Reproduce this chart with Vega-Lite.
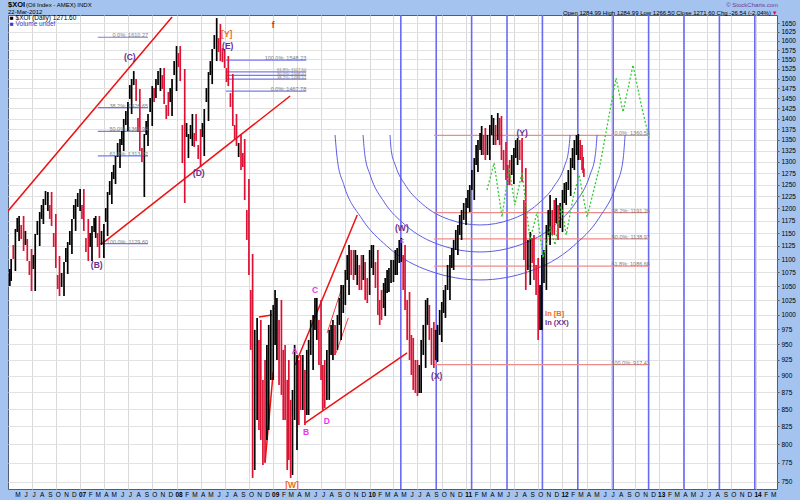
{
  "$schema": "https://vega.github.io/schema/vega-lite/v6.json",
  "width": 769,
  "height": 474,
  "autosize": {"type": "none"},
  "padding": {"left": 8, "top": 15, "right": 23, "bottom": 11},
  "background": "#a5c3ef",
  "config": {
    "font": "Liberation Sans",
    "view": {"fill": "#ffffff", "stroke": "#4f5d78", "strokeWidth": 1},
    "axis": {"labelFont": "Liberation Sans", "labelColor": "#000000", "domain": false, "title": null}
  },
  "datasets": {
    "bars": [
      {"d":"2006-04-10","hi":1081.4,"lo":1050.3,"dn":false},
      {"d":"2006-04-15","hi":1100.2,"lo":1059.4,"dn":false},
      {"d":"2006-05-01","hi":1158.4,"lo":1077.7,"dn":false},
      {"d":"2006-05-15","hi":1184.5,"lo":1134.7,"dn":false},
      {"d":"2006-06-01","hi":1184.5,"lo":1115.4,"dn":true},
      {"d":"2006-06-15","hi":1138.6,"lo":1096.4,"dn":true},
      {"d":"2006-07-01","hi":1119.3,"lo":1041.3,"dn":true},
      {"d":"2006-07-15","hi":1148.4,"lo":1041.3,"dn":false},
      {"d":"2006-08-01","hi":1192.6,"lo":1125.0,"dn":false},
      {"d":"2006-08-15","hi":1219.6,"lo":1168.3,"dn":false},
      {"d":"2006-09-01","hi":1234.3,"lo":1194.7,"dn":false},
      {"d":"2006-09-15","hi":1234.3,"lo":1164.3,"dn":true},
      {"d":"2006-10-01","hi":1188.6,"lo":1083.3,"dn":true},
      {"d":"2006-10-15","hi":1105.8,"lo":1032.4,"dn":true},
      {"d":"2006-11-01","hi":1094.5,"lo":1032.4,"dn":false},
      {"d":"2006-11-15","hi":1132.7,"lo":1072.2,"dn":false},
      {"d":"2006-12-01","hi":1178.5,"lo":1109.6,"dn":false},
      {"d":"2006-12-15","hi":1219.6,"lo":1154.4,"dn":false},
      {"d":"2007-01-01","hi":1240.7,"lo":1194.7,"dn":false},
      {"d":"2007-01-15","hi":1240.7,"lo":1154.4,"dn":true},
      {"d":"2007-02-01","hi":1178.5,"lo":1096.4,"dn":true},
      {"d":"2007-02-15","hi":1164.3,"lo":1096.4,"dn":false},
      {"d":"2007-03-01","hi":1184.5,"lo":1140.6,"dn":false},
      {"d":"2007-03-15","hi":1184.5,"lo":1102.1,"dn":true},
      {"d":"2007-04-01","hi":1168.3,"lo":1102.1,"dn":false},
      {"d":"2007-04-15","hi":1234.3,"lo":1144.5,"dn":false},
      {"d":"2007-05-01","hi":1277.4,"lo":1209.1,"dn":false},
      {"d":"2007-05-15","hi":1313.0,"lo":1251.3,"dn":false},
      {"d":"2007-06-01","hi":1352.0,"lo":1286.3,"dn":false},
      {"d":"2007-06-15","hi":1399.3,"lo":1324.4,"dn":false},
      {"d":"2007-07-01","hi":1440.7,"lo":1370.7,"dn":false},
      {"d":"2007-07-15","hi":1498.7,"lo":1411.3,"dn":false},
      {"d":"2007-08-01","hi":1498.7,"lo":1443.1,"dn":true},
      {"d":"2007-08-15","hi":1473.2,"lo":1324.4,"dn":true},
      {"d":"2007-09-01","hi":1363.6,"lo":1223.8,"dn":false},
      {"d":"2007-09-15","hi":1411.3,"lo":1335.8,"dn":false},
      {"d":"2007-10-01","hi":1480.7,"lo":1382.5,"dn":false},
      {"d":"2007-10-15","hi":1498.7,"lo":1450.6,"dn":false},
      {"d":"2007-11-01","hi":1527.3,"lo":1468.1,"dn":false},
      {"d":"2007-11-15","hi":1527.3,"lo":1435.7,"dn":true},
      {"d":"2007-12-01","hi":1465.6,"lo":1406.5,"dn":true},
      {"d":"2007-12-15","hi":1498.7,"lo":1406.5,"dn":false},
      {"d":"2008-01-01","hi":1586.1,"lo":1468.1,"dn":false},
      {"d":"2008-01-15","hi":1586.1,"lo":1493.5,"dn":true},
      {"d":"2008-02-01","hi":1524.7,"lo":1211.2,"dn":true},
      {"d":"2008-02-15","hi":1363.6,"lo":1308.5,"dn":false},
      {"d":"2008-03-01","hi":1411.3,"lo":1335.8,"dn":false},
      {"d":"2008-03-15","hi":1411.3,"lo":1347.3,"dn":true},
      {"d":"2008-04-01","hi":1375.4,"lo":1288.5,"dn":true},
      {"d":"2008-04-15","hi":1423.4,"lo":1313.0,"dn":false},
      {"d":"2008-05-01","hi":1516.8,"lo":1394.5,"dn":false},
      {"d":"2008-05-15","hi":1578.0,"lo":1485.8,"dn":false},
      {"d":"2008-06-01","hi":1664.2,"lo":1545.7,"dn":false},
      {"d":"2008-06-15","hi":1647.2,"lo":1545.7,"dn":true},
      {"d":"2008-07-01","hi":1578.0,"lo":1527.3,"dn":true},
      {"d":"2008-07-15","hi":1559.1,"lo":1480.7,"dn":true},
      {"d":"2008-08-01","hi":1511.6,"lo":1382.5,"dn":true},
      {"d":"2008-08-15","hi":1411.3,"lo":1335.8,"dn":true},
      {"d":"2008-09-01","hi":1363.6,"lo":1281.9,"dn":true},
      {"d":"2008-09-15","hi":1352.0,"lo":1217.5,"dn":true},
      {"d":"2008-10-01","hi":1262.1,"lo":1070.3,"dn":true},
      {"d":"2008-10-15","hi":1109.6,"lo":755.2,"dn":true},
      {"d":"2008-11-01","hi":994.2,"lo":834.3,"dn":false},
      {"d":"2008-11-15","hi":990.8,"lo":806.2,"dn":true},
      {"d":"2008-12-01","hi":924.9,"lo":776.2,"dn":true},
      {"d":"2008-12-15","hi":982.3,"lo":820.1,"dn":false},
      {"d":"2009-01-01","hi":1016.6,"lo":893.7,"dn":false},
      {"d":"2009-01-15","hi":1028.9,"lo":924.9,"dn":false},
      {"d":"2009-02-01","hi":1025.4,"lo":871.0,"dn":true},
      {"d":"2009-02-15","hi":949.1,"lo":834.3,"dn":true},
      {"d":"2009-03-01","hi":924.9,"lo":778.9,"dn":true},
      {"d":"2009-03-15","hi":878.5,"lo":759.1,"dn":false},
      {"d":"2009-04-01","hi":932.9,"lo":792.5,"dn":false},
      {"d":"2009-04-15","hi":932.9,"lo":848.8,"dn":true},
      {"d":"2009-05-01","hi":909.2,"lo":827.2,"dn":true},
      {"d":"2009-05-15","hi":957.3,"lo":841.5,"dn":false},
      {"d":"2009-06-01","hi":999.3,"lo":909.2,"dn":false},
      {"d":"2009-06-15","hi":1028.9,"lo":957.3,"dn":false},
      {"d":"2009-07-01","hi":1025.4,"lo":893.7,"dn":true},
      {"d":"2009-07-15","hi":924.9,"lo":851.7,"dn":true},
      {"d":"2009-08-01","hi":973.9,"lo":863.6,"dn":false},
      {"d":"2009-08-15","hi":990.8,"lo":924.9,"dn":false},
      {"d":"2009-09-01","hi":999.3,"lo":941.0,"dn":false},
      {"d":"2009-09-15","hi":1052.1,"lo":957.3,"dn":false},
      {"d":"2009-10-01","hi":1079.6,"lo":1016.6,"dn":false},
      {"d":"2009-10-15","hi":1126.9,"lo":1034.2,"dn":false},
      {"d":"2009-11-01","hi":1117.3,"lo":1061.2,"dn":true},
      {"d":"2009-11-15","hi":1107.7,"lo":1052.1,"dn":false},
      {"d":"2009-12-01","hi":1107.7,"lo":1043.1,"dn":true},
      {"d":"2009-12-15","hi":1094.5,"lo":1025.4,"dn":true},
      {"d":"2010-01-01","hi":1117.3,"lo":1034.2,"dn":false},
      {"d":"2010-01-15","hi":1126.9,"lo":1070.3,"dn":false},
      {"d":"2010-02-01","hi":1117.3,"lo":999.3,"dn":true},
      {"d":"2010-02-15","hi":1043.1,"lo":990.8,"dn":true},
      {"d":"2010-03-01","hi":1064.8,"lo":997.6,"dn":false},
      {"d":"2010-03-15","hi":1083.3,"lo":1039.5,"dn":false},
      {"d":"2010-04-01","hi":1098.3,"lo":1057.5,"dn":false},
      {"d":"2010-04-15","hi":1121.2,"lo":1070.3,"dn":false},
      {"d":"2010-05-01","hi":1140.6,"lo":1094.5,"dn":false},
      {"d":"2010-05-15","hi":1126.9,"lo":1007.9,"dn":true},
      {"d":"2010-06-01","hi":1039.5,"lo":924.9,"dn":true},
      {"d":"2010-06-15","hi":960.6,"lo":878.5,"dn":true},
      {"d":"2010-07-01","hi":924.9,"lo":869.5,"dn":true},
      {"d":"2010-07-15","hi":957.3,"lo":873.9,"dn":false},
      {"d":"2010-08-01","hi":1025.4,"lo":912.3,"dn":false},
      {"d":"2010-08-15","hi":1016.6,"lo":957.3,"dn":true},
      {"d":"2010-09-01","hi":987.3,"lo":912.3,"dn":true},
      {"d":"2010-09-15","hi":982.3,"lo":921.7,"dn":false},
      {"d":"2010-10-01","hi":1021.8,"lo":953.9,"dn":false},
      {"d":"2010-10-15","hi":1052.1,"lo":994.2,"dn":false},
      {"d":"2010-11-01","hi":1107.7,"lo":1025.4,"dn":false},
      {"d":"2010-11-15","hi":1136.7,"lo":1079.6,"dn":false},
      {"d":"2010-12-01","hi":1166.3,"lo":1107.7,"dn":false},
      {"d":"2010-12-15","hi":1196.8,"lo":1136.7,"dn":false},
      {"d":"2011-01-01","hi":1221.7,"lo":1166.3,"dn":false},
      {"d":"2011-01-15","hi":1249.2,"lo":1192.6,"dn":false},
      {"d":"2011-02-01","hi":1308.5,"lo":1217.5,"dn":false},
      {"d":"2011-02-15","hi":1349.6,"lo":1277.4,"dn":false},
      {"d":"2011-03-01","hi":1382.5,"lo":1315.3,"dn":false},
      {"d":"2011-03-15","hi":1377.8,"lo":1304.1,"dn":true},
      {"d":"2011-04-01","hi":1384.9,"lo":1304.1,"dn":false},
      {"d":"2011-04-15","hi":1401.7,"lo":1338.1,"dn":false},
      {"d":"2011-05-01","hi":1413.7,"lo":1349.6,"dn":false},
      {"d":"2011-05-15","hi":1406.5,"lo":1304.1,"dn":true},
      {"d":"2011-06-01","hi":1345.0,"lo":1260.0,"dn":true},
      {"d":"2011-06-15","hi":1304.1,"lo":1249.2,"dn":true},
      {"d":"2011-07-01","hi":1331.2,"lo":1251.3,"dn":false},
      {"d":"2011-07-15","hi":1354.3,"lo":1292.9,"dn":false},
      {"d":"2011-08-01","hi":1354.3,"lo":1255.7,"dn":true},
      {"d":"2011-08-15","hi":1286.3,"lo":1043.1,"dn":true},
      {"d":"2011-09-01","hi":1152.4,"lo":1052.1,"dn":false},
      {"d":"2011-09-15","hi":1146.5,"lo":1061.2,"dn":true},
      {"d":"2011-10-01","hi":1102.1,"lo":957.3,"dn":true},
      {"d":"2011-10-15","hi":1107.7,"lo":973.9,"dn":false},
      {"d":"2011-11-01","hi":1166.3,"lo":1043.1,"dn":false},
      {"d":"2011-11-15","hi":1228.0,"lo":1126.9,"dn":false},
      {"d":"2011-12-01","hi":1217.5,"lo":1146.5,"dn":true},
      {"d":"2011-12-15","hi":1207.1,"lo":1136.7,"dn":true},
      {"d":"2012-01-01","hi":1238.5,"lo":1152.4,"dn":false},
      {"d":"2012-01-15","hi":1255.7,"lo":1207.1,"dn":false},
      {"d":"2012-02-01","hi":1308.5,"lo":1225.9,"dn":false},
      {"d":"2012-02-15","hi":1349.6,"lo":1281.9,"dn":false},
      {"d":"2012-03-01","hi":1363.6,"lo":1304.1,"dn":false},
      {"d":"2012-03-15","hi":1338.1,"lo":1281.9,"dn":true},
      {"d":"2012-03-22","hi":1284.99,"lo":1266.5,"dn":true},
      {"d":"2006-04-23","hi":1126.9,"lo":1100.2,"dn":true},
      {"d":"2006-05-08","hi":1180.5,"lo":1152.4,"dn":false},
      {"d":"2006-05-23","hi":1166.3,"lo":1138.6,"dn":true},
      {"d":"2006-06-08","hi":1154.4,"lo":1126.9,"dn":false},
      {"d":"2006-06-23","hi":1096.4,"lo":1070.3,"dn":true},
      {"d":"2006-07-08","hi":1107.7,"lo":1081.4,"dn":false},
      {"d":"2006-07-23","hi":1174.5,"lo":1146.5,"dn":false},
      {"d":"2006-08-08","hi":1207.1,"lo":1178.5,"dn":false},
      {"d":"2006-08-23","hi":1236.4,"lo":1207.1,"dn":false},
      {"d":"2006-09-08","hi":1207.1,"lo":1178.5,"dn":true},
      {"d":"2006-09-23","hi":1150.4,"lo":1123.1,"dn":true},
      {"d":"2006-10-08","hi":1070.3,"lo":1044.9,"dn":true},
      {"d":"2006-10-23","hi":1074.0,"lo":1048.5,"dn":false},
      {"d":"2006-11-08","hi":1121.2,"lo":1094.5,"dn":false},
      {"d":"2006-11-23","hi":1154.4,"lo":1126.9,"dn":false},
      {"d":"2006-12-08","hi":1207.1,"lo":1178.5,"dn":false},
      {"d":"2006-12-23","hi":1232.2,"lo":1203.0,"dn":false},
      {"d":"2007-01-08","hi":1207.1,"lo":1178.5,"dn":true},
      {"d":"2007-01-23","hi":1140.6,"lo":1113.4,"dn":true},
      {"d":"2007-02-08","hi":1150.4,"lo":1123.1,"dn":false},
      {"d":"2007-02-23","hi":1180.5,"lo":1152.4,"dn":false},
      {"d":"2007-03-08","hi":1150.4,"lo":1123.1,"dn":true},
      {"d":"2007-03-23","hi":1154.4,"lo":1126.9,"dn":false},
      {"d":"2007-04-08","hi":1200.9,"lo":1172.4,"dn":false},
      {"d":"2007-04-23","hi":1257.8,"lo":1228.0,"dn":false},
      {"d":"2007-05-08","hi":1292.9,"lo":1262.1,"dn":false},
      {"d":"2007-05-23","hi":1342.7,"lo":1310.8,"dn":false},
      {"d":"2007-06-08","hi":1370.7,"lo":1338.1,"dn":false},
      {"d":"2007-06-23","hi":1418.6,"lo":1384.9,"dn":false},
      {"d":"2007-07-08","hi":1483.3,"lo":1448.1,"dn":false},
      {"d":"2007-07-23","hi":1519.4,"lo":1483.3,"dn":false},
      {"d":"2007-08-08","hi":1401.7,"lo":1368.5,"dn":true},
      {"d":"2007-08-23","hi":1331.2,"lo":1299.6,"dn":true},
      {"d":"2007-09-08","hi":1394.5,"lo":1361.3,"dn":false},
      {"d":"2007-09-23","hi":1450.6,"lo":1416.1,"dn":false},
      {"d":"2007-10-08","hi":1475.7,"lo":1440.7,"dn":true},
      {"d":"2007-10-23","hi":1519.4,"lo":1483.3,"dn":false},
      {"d":"2007-11-08","hi":1509.0,"lo":1473.2,"dn":true},
      {"d":"2007-11-23","hi":1433.3,"lo":1399.3,"dn":true},
      {"d":"2007-12-08","hi":1475.7,"lo":1440.7,"dn":false},
      {"d":"2007-12-23","hi":1545.7,"lo":1509.0,"dn":false},
      {"d":"2008-01-08","hi":1567.1,"lo":1529.9,"dn":true},
      {"d":"2008-01-23","hi":1384.9,"lo":1297.3,"dn":true},
      {"d":"2008-02-08","hi":1389.6,"lo":1356.6,"dn":false},
      {"d":"2008-02-23","hi":1384.9,"lo":1352.0,"dn":false},
      {"d":"2008-03-08","hi":1365.9,"lo":1333.5,"dn":true},
      {"d":"2008-03-23","hi":1338.1,"lo":1306.3,"dn":true},
      {"d":"2008-04-08","hi":1389.6,"lo":1356.6,"dn":false},
      {"d":"2008-04-23","hi":1475.7,"lo":1440.7,"dn":false},
      {"d":"2008-05-08","hi":1545.7,"lo":1509.0,"dn":false},
      {"d":"2008-05-23","hi":1616.3,"lo":1578.0,"dn":false},
      {"d":"2008-06-08","hi":1608.0,"lo":1569.8,"dn":true},
      {"d":"2008-06-23","hi":1580.7,"lo":1543.0,"dn":true},
      {"d":"2008-07-08","hi":1527.3,"lo":1491.0,"dn":true},
      {"d":"2008-07-23","hi":1463.1,"lo":1428.4,"dn":true},
      {"d":"2008-08-08","hi":1384.9,"lo":1352.0,"dn":true},
      {"d":"2008-08-23","hi":1342.7,"lo":1310.8,"dn":false},
      {"d":"2008-09-08","hi":1319.8,"lo":1288.5,"dn":true},
      {"d":"2008-09-23","hi":1196.8,"lo":1136.7,"dn":true},
      {"d":"2008-10-08","hi":1043.1,"lo":941.0,"dn":true},
      {"d":"2008-10-23","hi":973.9,"lo":765.6,"dn":false},
      {"d":"2008-11-08","hi":957.3,"lo":820.1,"dn":true},
      {"d":"2008-11-23","hi":893.7,"lo":772.2,"dn":true},
      {"d":"2008-12-08","hi":949.1,"lo":806.2,"dn":false},
      {"d":"2008-12-23","hi":1007.9,"lo":893.7,"dn":false},
      {"d":"2009-01-08","hi":1043.1,"lo":949.1,"dn":false},
      {"d":"2009-01-23","hi":990.8,"lo":886.1,"dn":true},
      {"d":"2009-02-08","hi":941.0,"lo":834.3,"dn":true},
      {"d":"2009-02-23","hi":893.7,"lo":765.6,"dn":true},
      {"d":"2009-03-08","hi":863.6,"lo":755.2,"dn":true},
      {"d":"2009-03-23","hi":949.1,"lo":834.3,"dn":false},
      {"d":"2009-04-08","hi":924.9,"lo":827.2,"dn":true},
      {"d":"2009-04-23","hi":932.9,"lo":848.8,"dn":false},
      {"d":"2009-05-08","hi":941.0,"lo":841.5,"dn":false},
      {"d":"2009-05-23","hi":990.8,"lo":932.9,"dn":false},
      {"d":"2009-06-08","hi":1028.9,"lo":973.9,"dn":false},
      {"d":"2009-06-23","hi":990.8,"lo":917.0,"dn":true},
      {"d":"2009-07-08","hi":917.0,"lo":848.8,"dn":true},
      {"d":"2009-07-23","hi":941.0,"lo":863.6,"dn":false},
      {"d":"2009-08-08","hi":982.3,"lo":932.9,"dn":false},
      {"d":"2009-08-23","hi":982.3,"lo":932.9,"dn":true},
      {"d":"2009-09-08","hi":1028.9,"lo":982.3,"dn":false},
      {"d":"2009-09-23","hi":1052.1,"lo":1002.7,"dn":false},
      {"d":"2009-10-08","hi":1107.7,"lo":1061.2,"dn":false},
      {"d":"2009-10-23","hi":1117.3,"lo":1070.3,"dn":true},
      {"d":"2009-11-08","hi":1117.3,"lo":1070.3,"dn":false},
      {"d":"2009-11-23","hi":1088.9,"lo":1043.1,"dn":true},
      {"d":"2009-12-08","hi":1107.7,"lo":1061.2,"dn":false},
      {"d":"2009-12-23","hi":1064.8,"lo":1020.0,"dn":true},
      {"d":"2010-01-08","hi":1126.9,"lo":1083.3,"dn":false},
      {"d":"2010-01-23","hi":1094.5,"lo":1046.7,"dn":true},
      {"d":"2010-02-08","hi":1025.4,"lo":982.3,"dn":true},
      {"d":"2010-02-23","hi":1055.7,"lo":1011.4,"dn":false},
      {"d":"2010-03-08","hi":1079.6,"lo":1037.7,"dn":false},
      {"d":"2010-03-23","hi":1098.3,"lo":1055.7,"dn":false},
      {"d":"2010-04-08","hi":1117.3,"lo":1070.3,"dn":false},
      {"d":"2010-04-23","hi":1136.7,"lo":1092.6,"dn":false},
      {"d":"2010-05-08","hi":1107.7,"lo":1043.1,"dn":true},
      {"d":"2010-05-23","hi":1025.4,"lo":957.3,"dn":true},
      {"d":"2010-06-08","hi":965.5,"lo":901.4,"dn":true},
      {"d":"2010-06-23","hi":924.9,"lo":873.9,"dn":true},
      {"d":"2010-07-08","hi":917.0,"lo":873.9,"dn":false},
      {"d":"2010-07-23","hi":982.3,"lo":932.9,"dn":false},
      {"d":"2010-08-08","hi":1028.9,"lo":982.3,"dn":false},
      {"d":"2010-08-23","hi":977.2,"lo":917.0,"dn":true},
      {"d":"2010-09-08","hi":973.9,"lo":924.9,"dn":false},
      {"d":"2010-09-23","hi":1007.9,"lo":965.5,"dn":false},
      {"d":"2010-10-08","hi":1043.1,"lo":1002.7,"dn":false},
      {"d":"2010-10-23","hi":1088.9,"lo":1043.1,"dn":false},
      {"d":"2010-11-08","hi":1121.2,"lo":1083.3,"dn":false},
      {"d":"2010-11-23","hi":1156.4,"lo":1117.3,"dn":false},
      {"d":"2010-12-08","hi":1186.5,"lo":1146.5,"dn":false},
      {"d":"2010-12-23","hi":1211.2,"lo":1176.5,"dn":false},
      {"d":"2011-01-08","hi":1238.5,"lo":1200.9,"dn":false},
      {"d":"2011-01-23","hi":1281.9,"lo":1238.5,"dn":false},
      {"d":"2011-02-08","hi":1338.1,"lo":1292.9,"dn":false},
      {"d":"2011-02-23","hi":1365.9,"lo":1326.7,"dn":false},
      {"d":"2011-03-08","hi":1361.3,"lo":1315.3,"dn":true},
      {"d":"2011-03-23","hi":1361.3,"lo":1315.3,"dn":false},
      {"d":"2011-04-08","hi":1408.9,"lo":1361.3,"dn":false},
      {"d":"2011-04-23","hi":1384.9,"lo":1338.1,"dn":true},
      {"d":"2011-05-08","hi":1401.7,"lo":1338.1,"dn":true},
      {"d":"2011-05-23","hi":1326.7,"lo":1281.9,"dn":true},
      {"d":"2011-06-08","hi":1292.9,"lo":1249.2,"dn":true},
      {"d":"2011-06-23","hi":1315.3,"lo":1270.9,"dn":false},
      {"d":"2011-07-08","hi":1349.6,"lo":1308.5,"dn":false},
      {"d":"2011-07-23","hi":1349.6,"lo":1304.1,"dn":true},
      {"d":"2011-08-08","hi":1217.5,"lo":1098.3,"dn":true},
      {"d":"2011-08-23","hi":1136.7,"lo":1079.6,"dn":false},
      {"d":"2011-09-08","hi":1140.6,"lo":1092.6,"dn":true},
      {"d":"2011-09-23","hi":1088.9,"lo":1034.2,"dn":true},
      {"d":"2011-10-08","hi":1052.1,"lo":973.9,"dn":false},
      {"d":"2011-10-23","hi":1117.3,"lo":1055.7,"dn":false},
      {"d":"2011-11-08","hi":1196.8,"lo":1146.5,"dn":false},
      {"d":"2011-11-23","hi":1196.8,"lo":1146.5,"dn":true},
      {"d":"2011-12-08","hi":1221.7,"lo":1170.3,"dn":false},
      {"d":"2011-12-23","hi":1211.2,"lo":1160.4,"dn":false},
      {"d":"2012-01-08","hi":1253.5,"lo":1211.2,"dn":false},
      {"d":"2012-01-23","hi":1281.9,"lo":1238.5,"dn":false},
      {"d":"2012-02-08","hi":1331.2,"lo":1286.3,"dn":false},
      {"d":"2012-02-23","hi":1361.3,"lo":1315.3,"dn":false},
      {"d":"2012-03-08","hi":1349.6,"lo":1304.1,"dn":true},
      {"d":"2012-03-19","hi":1310.8,"lo":1275.2,"dn":true}
    ],
    "cycles": [
      {"d":"2010-04-29"},{"d":"2010-09-10"},{"d":"2011-01-22"},{"d":"2011-06-05"},
      {"d":"2011-10-17"},{"d":"2012-02-28"},{"d":"2012-07-11"},{"d":"2012-11-22"},
      {"d":"2013-04-05"},{"d":"2013-08-17"},{"d":"2013-12-29"}
    ],
    "fibs": [
      {"src":"2007","d1":"2007-03-09","d2":"2007-09-15","v":1610.27,"label":"0.0%: 1610.27"},
      {"src":"2007","d1":"2007-03-09","d2":"2007-09-15","v":1426.65,"label":"38.2%: 1426.65"},
      {"src":"2007","d1":"2007-03-09","d2":"2007-09-15","v":1369.94,"label":"50.0%: 1369.94"},
      {"src":"2007","d1":"2007-03-09","d2":"2007-09-15","v":1313.22,"label":"61.8%: 1313.22"},
      {"src":"2007","d1":"2007-03-17","d2":"2007-09-15","v":1129.60,"label":"100.0%: 1129.60"},
      {"src":"2008","d1":"2008-07-06","d2":"2009-05-06","v":1548.23,"label":"100.0%: 1548.23"},
      {"src":"2008","d1":"2008-07-06","d2":"2009-05-06","v":1517.50,"label":"61.8%: 1517.50"},
      {"src":"2008","d1":"2008-07-06","d2":"2009-05-06","v":1508.01,"label":"50.0%: 1508.01"},
      {"src":"2008","d1":"2008-07-06","d2":"2009-05-06","v":1498.51,"label":"38.2%: 1498.51"},
      {"src":"2008","d1":"2008-07-06","d2":"2009-05-06","v":1467.78,"label":"0.0%: 1467.78"},
      {"src":"2011","d1":"2010-09-02","d2":"2012-11-27","v":1360.53,"label":"0.0%: 1360.53"},
      {"src":"2011","d1":"2010-09-02","d2":"2012-11-27","v":1191.26,"label":"38.2%: 1191.26"},
      {"src":"2011","d1":"2010-09-02","d2":"2012-11-27","v":1138.97,"label":"50.0%: 1138.97"},
      {"src":"2011","d1":"2010-09-02","d2":"2012-11-27","v":1086.68,"label":"61.8%: 1086.68"},
      {"src":"2011","d1":"2010-09-02","d2":"2012-11-27","v":917.41,"label":"100.0%: 917.41"}
    ],
    "trend": [
      {"kind":"main","d1":"2006-04-03","v1":1194.7,"d2":"2007-12-15","v2":1667.0},
      {"kind":"main","d1":"2007-03-25","v1":1129.6,"d2":"2009-03-06","v2":1455.6},
      {"kind":"main","d1":"2009-03-25","v1":917.0,"d2":"2009-11-15","v2":1186.5},
      {"kind":"main","d1":"2009-05-02","v1":830.0,"d2":"2010-05-23","v2":936.1},
      {"kind":"channel","d1":"2009-07-24","v1":968.8,"d2":"2009-09-19","v2":1048.5},
      {"kind":"channel","d1":"2009-08-27","v1":936.1,"d2":"2009-10-12","v2":994.2},
      {"kind":"main","d1":"2008-11-08","v1":995.9,"d2":"2008-12-27","v2":999.3},
      {"kind":"main","d1":"2008-12-01","v1":774.9,"d2":"2009-01-01","v2":906.1}
    ],
    "arcs": [
      {"arc":"38.2","d":"2010-03-19","v":1361.3},{"arc":"38.2","d":"2010-03-24","v":1325.3},
      {"arc":"38.2","d":"2010-04-09","v":1291.1},{"arc":"38.2","d":"2010-05-20","v":1245.8},
      {"arc":"38.2","d":"2010-07-19","v":1209.3},{"arc":"38.2","d":"2010-10-29","v":1177.3},
      {"arc":"38.2","d":"2011-02-23","v":1166.3},{"arc":"38.2","d":"2011-06-19","v":1177.3},
      {"arc":"38.2","d":"2011-09-30","v":1209.3},{"arc":"38.2","d":"2011-11-29","v":1245.8},
      {"arc":"38.2","d":"2012-01-09","v":1291.1},{"arc":"38.2","d":"2012-01-24","v":1325.3},
      {"arc":"38.2","d":"2012-01-30","v":1361.3},
      {"arc":"50","d":"2009-12-07","v":1361.3},{"arc":"50","d":"2009-12-14","v":1314.6},
      {"arc":"50","d":"2010-01-03","v":1270.9},{"arc":"50","d":"2010-02-25","v":1213.1},
      {"arc":"50","d":"2010-05-14","v":1167.1},{"arc":"50","d":"2010-09-24","v":1127.1},
      {"arc":"50","d":"2011-02-23","v":1113.5},{"arc":"50","d":"2011-07-24","v":1127.1},
      {"arc":"50","d":"2011-12-05","v":1167.1},{"arc":"50","d":"2012-02-21","v":1213.1},
      {"arc":"50","d":"2012-04-14","v":1270.9},{"arc":"50","d":"2012-05-04","v":1314.6},
      {"arc":"50","d":"2012-05-11","v":1361.3},
      {"arc":"61.8","d":"2009-08-23","v":1361.3},{"arc":"61.8","d":"2009-09-01","v":1303.7},
      {"arc":"61.8","d":"2009-09-25","v":1250.1},{"arc":"61.8","d":"2009-12-01","v":1180.1},
      {"arc":"61.8","d":"2010-03-07","v":1124.8},{"arc":"61.8","d":"2010-08-19","v":1077.2},
      {"arc":"61.8","d":"2011-02-23","v":1061.2},{"arc":"61.8","d":"2011-08-30","v":1077.2},
      {"arc":"61.8","d":"2012-02-11","v":1124.8},{"arc":"61.8","d":"2012-05-18","v":1180.1},
      {"arc":"61.8","d":"2012-07-23","v":1250.1},{"arc":"61.8","d":"2012-08-17","v":1303.7},
      {"arc":"61.8","d":"2012-08-25","v":1361.3}
    ],
    "projection": [
      {"d":"2011-03-21","v":1238.5},{"d":"2011-04-17","v":1297.3},{"d":"2011-05-17","v":1182.5},
      {"d":"2011-06-13","v":1286.3},{"d":"2011-07-05","v":1207.1},{"d":"2011-08-01","v":1277.4},
      {"d":"2011-08-31","v":1136.7},{"d":"2011-09-27","v":1192.6},{"d":"2011-10-19","v":1102.1},
      {"d":"2011-11-15","v":1160.4},{"d":"2011-12-04","v":1126.9},{"d":"2011-12-27","v":1207.1},
      {"d":"2012-01-15","v":1146.5},{"d":"2012-02-10","v":1221.7},{"d":"2012-03-04","v":1270.9},
      {"d":"2012-04-03","v":1182.5},{"d":"2012-05-22","v":1292.9},{"d":"2012-06-29","v":1421.0},
      {"d":"2012-07-22","v":1501.3},{"d":"2012-08-17","v":1416.1},{"d":"2012-09-24","v":1535.2},
      {"d":"2012-10-25","v":1433.3},{"d":"2012-11-24","v":1354.3}
    ],
    "waves": [
      {"d":"2007-07-08","v":1556,"t":"(C)","k":"int"},
      {"d":"2008-07-09","v":1619,"t":"[Y]","k":"pri"},
      {"d":"2008-07-13","v":1586,"t":"(E)","k":"int"},
      {"d":"2009-01-01","v":1644,"t":"f","k":"note"},
      {"d":"2008-03-25","v":1275.2,"t":"(D)","k":"int"},
      {"d":"2007-03-05","v":1088.9,"t":"(B)","k":"int"},
      {"d":"2009-03-13","v":746.1,"t":"[W]","k":"pri"},
      {"d":"2009-03-24","v":939.4,"t":"A","k":"sub"},
      {"d":"2009-05-05","v":817.3,"t":"B","k":"sub"},
      {"d":"2009-06-08","v":1043.1,"t":"C","k":"sub"},
      {"d":"2009-07-23","v":832.9,"t":"D","k":"sub"},
      {"d":"2010-05-03","v":1160.4,"t":"(W)","k":"int"},
      {"d":"2010-09-12","v":899.9,"t":"(X)","k":"int"},
      {"d":"2011-08-01","v":1365.9,"t":"(Y)","k":"int"}
    ],
    "notes": [
      {"d":"2011-10-27","v":1001.0,"t":"In [B]","k":"pri"},
      {"d":"2011-10-27","v":985.0,"t":"In (XX)","k":"int"}
    ]
  },
  "layer": [
    {
      "data": {"name": "cycles"},
      "mark": {"type": "rule", "color": "#6a6af2", "strokeWidth": 1.6},
      "encoding": {
        "x": {
          "field": "d", "type": "temporal",
          "scale": {"type": "utc", "domain": [{"year": 2006, "month": 4, "date": 3, "utc": true}, {"year": 2014, "month": 3, "date": 23, "utc": true}]},
          "axis": {
            "orient": "bottom",
            "tickCount": {"interval": "month", "step": 1},
            "labelExpr": "utcmonth(datum.value) == 0 ? utcFormat(datum.value, '%y') : substring(utcFormat(datum.value, '%b'), 0, 1)",
            "labelFontSize": 6.5,
            "labelFontWeight": {"condition": {"test": "utcmonth(datum.value) == 0", "value": "bold"}, "value": "normal"},
            "labelOverlap": false,
            "labelFlush": false,
            "labelBound": false,
            "labelPadding": 2,
            "labelOffset": 2,
            "ticks": false,
            "grid": true,
            "gridColor": {"condition": {"test": "utcmonth(datum.value) % 3 == 0", "value": "#d9d9d9"}, "value": "rgba(0,0,0,0)"},
            "gridWidth": 1
          }
        }
      }
    },
    {
      "data": {"name": "fibs"},
      "mark": {"type": "rule", "strokeWidth": 1.2},
      "encoding": {
        "x": {"field": "d1", "type": "temporal"},
        "x2": {"field": "d2"},
        "y": {
          "field": "v", "type": "quantitative",
          "scale": {"type": "log", "domain": [741, 1673], "nice": false, "zero": false},
          "axis": {
            "orient": "right",
            "values": [750,775,800,825,850,875,900,925,950,975,1000,1025,1050,1075,1100,1125,1150,1175,1200,1225,1250,1275,1300,1325,1350,1375,1400,1425,1450,1475,1500,1525,1550,1575,1600,1625,1650],
            "format": "d",
            "labelFontSize": 6.5,
            "labelPadding": 2,
            "tickSize": 2,
            "tickColor": "#555555",
            "grid": true,
            "gridColor": "#e2e2e2"
          }
        },
        "color": {"condition": {"test": "datum.src == '2011'", "value": "#f08a8a"}, "value": "#7a7af0"}
      }
    },
    {
      "data": {"name": "arcs"},
      "mark": {"type": "line", "interpolate": "monotone", "color": "#5c5ce6", "strokeWidth": 1, "clip": true},
      "encoding": {
        "x": {"field": "d", "type": "temporal"},
        "y": {"field": "v", "type": "quantitative"},
        "detail": {"field": "arc"}
      }
    },
    {
      "data": {"name": "trend"},
      "mark": {"type": "rule", "color": "#ee1111", "clip": true},
      "encoding": {
        "x": {"field": "d1", "type": "temporal"},
        "y": {"field": "v1", "type": "quantitative"},
        "x2": {"field": "d2"},
        "y2": {"field": "v2"},
        "strokeWidth": {"condition": {"test": "datum.kind == 'channel'", "value": 0.8}, "value": 1.5}
      }
    },
    {
      "data": {"name": "bars"},
      "mark": {"type": "rule", "strokeWidth": 1.7},
      "encoding": {
        "x": {"field": "d", "type": "temporal"},
        "y": {"field": "lo", "type": "quantitative"},
        "y2": {"field": "hi"},
        "color": {"condition": {"test": "datum.dn", "value": "#dd1133"}, "value": "#000000"}
      }
    },
    {
      "data": {"name": "projection"},
      "mark": {"type": "line", "color": "#2fcc2f", "strokeWidth": 1.3, "strokeDash": [2, 2], "clip": true},
      "encoding": {
        "x": {"field": "d", "type": "temporal"},
        "y": {"field": "v", "type": "quantitative"}
      }
    },
    {
      "data": {"name": "fibs"},
      "transform": [{"filter": "datum.src != '2008' || datum.v > 1530 || datum.v < 1480"}],
      "mark": {"type": "text", "align": "right", "baseline": "bottom", "dy": 1, "fontSize": 5.5, "color": "#7d7d7d"},
      "encoding": {
        "x": {"field": "d2", "type": "temporal"},
        "y": {"field": "v", "type": "quantitative"},
        "text": {"field": "label"}
      }
    },
    {
      "data": {"name": "fibs"},
      "transform": [{"filter": "datum.src == '2008' && datum.v < 1530 && datum.v > 1480"}],
      "mark": {"type": "text", "align": "right", "baseline": "bottom", "dy": 0.5, "fontSize": 4.2, "color": "#7d7d7d"},
      "encoding": {
        "x": {"field": "d2", "type": "temporal"},
        "y": {"field": "v", "type": "quantitative"},
        "text": {"field": "label"}
      }
    },
    {
      "data": {"name": "waves"},
      "mark": {"type": "text", "align": "center", "baseline": "middle", "fontSize": 8.5, "fontWeight": "bold"},
      "encoding": {
        "x": {"field": "d", "type": "temporal"},
        "y": {"field": "v", "type": "quantitative"},
        "text": {"field": "t"},
        "color": {"condition": [
          {"test": "datum.k == 'pri'", "value": "#f26b1d"},
          {"test": "datum.k == 'sub'", "value": "#f032f0"},
          {"test": "datum.k == 'note'", "value": "#ee1111"}
        ], "value": "#6b2d8f"}
      }
    },
    {
      "data": {"values": [
        {"d": "2010-05-04", "v": 1141.5, "t": "E"}
      ]},
      "mark": {"type": "text", "align": "center", "baseline": "top", "fontSize": 6, "fontWeight": "bold", "color": "#f032f0"},
      "encoding": {
        "x": {"field": "d", "type": "temporal"},
        "y": {"field": "v", "type": "quantitative"},
        "text": {"field": "t"}
      }
    },
    {
      "data": {"name": "notes"},
      "mark": {"type": "text", "align": "left", "baseline": "middle", "fontSize": 7.5, "fontWeight": "bold"},
      "encoding": {
        "x": {"field": "d", "type": "temporal"},
        "y": {"field": "v", "type": "quantitative"},
        "text": {"field": "t"},
        "color": {"condition": {"test": "datum.k == 'pri'", "value": "#f26b1d"}, "value": "#6b2d8f"}
      }
    },
    {
      "data": {"values": [
        {"d": "2006-04-10", "v": 1664, "t": "■ $XOI (Daily) 1271.60"}
      ]},
      "mark": {"type": "text", "align": "left", "baseline": "middle", "fontSize": 6.5, "color": "#000000"},
      "encoding": {
        "x": {"field": "d", "type": "temporal"},
        "y": {"field": "v", "type": "quantitative"},
        "text": {"field": "t"}
      }
    },
    {
      "data": {"values": [
        {"d": "2006-04-10", "v": 1648.5, "t": "■ Volume undef"}
      ]},
      "mark": {"type": "text", "align": "left", "baseline": "middle", "fontSize": 6.5, "color": "#2f3fc9"},
      "encoding": {
        "x": {"field": "d", "type": "temporal"},
        "y": {"field": "v", "type": "quantitative"},
        "text": {"field": "t"}
      }
    },
    {
      "data": {"values": [
        {"d": "2006-04-03", "v": 1702, "t": "$XOI"}
      ]},
      "mark": {"type": "text", "align": "left", "baseline": "middle", "fontSize": 7.5, "fontWeight": "bold", "color": "#000000"},
      "encoding": {
        "x": {"field": "d", "type": "temporal"},
        "y": {"field": "v", "type": "quantitative"},
        "text": {"field": "t"}
      }
    },
    {
      "data": {"values": [
        {"d": "2006-06-10", "v": 1702, "t": "(Oil Index - AMEX) INDX"},
        {"d": "2006-04-03", "v": 1681.5, "t": "22-Mar-2012"}
      ]},
      "mark": {"type": "text", "align": "left", "baseline": "middle", "fontSize": 6, "color": "#000000"},
      "encoding": {
        "x": {"field": "d", "type": "temporal"},
        "y": {"field": "v", "type": "quantitative"},
        "text": {"field": "t"}
      }
    },
    {
      "data": {"values": [
        {"d": "2014-02-28", "v": 1680, "t": "Open 1284.99  High 1284.99  Low 1266.50  Close 1271.60  Chg -26.54 (-2.04%)"}
      ]},
      "mark": {"type": "text", "align": "right", "baseline": "middle", "fontSize": 6, "color": "#000000"},
      "encoding": {
        "x": {"field": "d", "type": "temporal"},
        "y": {"field": "v", "type": "quantitative"},
        "text": {"field": "t"}
      }
    },
    {
      "data": {"values": [
        {"d": "2014-03-14", "v": 1680, "t": "▼"}
      ]},
      "mark": {"type": "text", "align": "center", "baseline": "middle", "fontSize": 6, "color": "#dd1133"},
      "encoding": {
        "x": {"field": "d", "type": "temporal"},
        "y": {"field": "v", "type": "quantitative"},
        "text": {"field": "t"}
      }
    },
    {
      "data": {"values": [
        {"d": "2014-03-27", "v": 1702, "t": "© StockCharts.com"}
      ]},
      "mark": {"type": "text", "align": "right", "baseline": "middle", "fontSize": 6, "color": "#6a3d9a"},
      "encoding": {
        "x": {"field": "d", "type": "temporal"},
        "y": {"field": "v", "type": "quantitative"},
        "text": {"field": "t"}
      }
    }
  ]
}
